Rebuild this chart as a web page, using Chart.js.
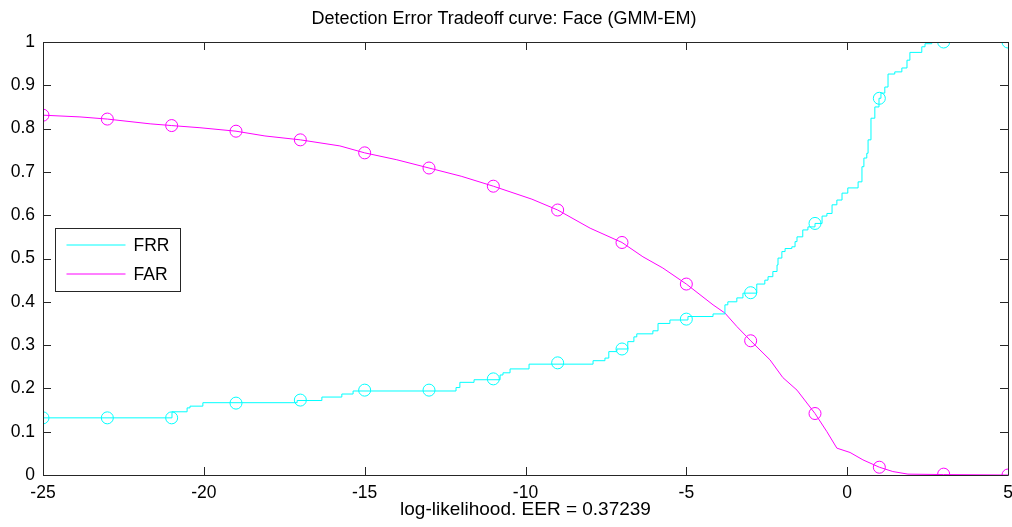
<!DOCTYPE html>
<html>
<head>
<meta charset="utf-8">
<script src="https://cdn.jsdelivr.net/npm/chart.js@4"></script>
<style>
	html, body { margin: 0; padding: 0; background: #fff; overflow: hidden; }
	canvas { display: block; }
</style>
</head>
<body>
<canvas id="detChart" width="1012" height="527"></canvas>
<script>
// marker positions (every 2 units) and curve values there
const markerX = [-25, -23, -21, -19, -17, -15, -13, -11, -9, -7, -5, -3, -1, 1, 3, 5];
const frrMarks = [0.132, 0.132, 0.132, 0.166, 0.173, 0.196, 0.196, 0.222, 0.259, 0.291, 0.360, 0.421, 0.581, 0.870, 1.0, 1.0];
const farMarks = [0.831, 0.822, 0.807, 0.794, 0.774, 0.744, 0.709, 0.667, 0.612, 0.537, 0.441, 0.310, 0.142, 0.018, 0.002, 0.0];

// FRR staircase (value changes at x)
const frrX = [-25, -20.99, -20.52, -20.43, -20.03, -17.10, -16.33, -15.71, -15.36, -12.16, -12.04, -11.60, -10.79, -10.70, -10.48, -9.89,
	-7.90, -7.53, -7.41, -7.16, -6.82, -6.63, -6.54, -6.04, -5.88, -5.51, -4.95, -4.17, -3.80, -3.71, -3.43, -3.24,
	-2.81, -2.56, -2.46, -2.31, -2.18, -2.15, -2.03, -1.93, -1.72, -1.62, -1.56, -1.38, -1.22, -1.00, -0.78, -0.63,
	-0.47, -0.32, -0.16, 0.02, 0.34, 0.46, 0.52, 0.61, 0.65, 0.74, 0.86, 0.99, 1.05, 1.17, 1.27, 1.48,
	1.70, 1.86, 1.95, 2.32, 2.42, 2.63, 5];
const frrY = [0.132, 0.146, 0.155, 0.159, 0.167, 0.172, 0.180, 0.187, 0.194, 0.202, 0.214, 0.220, 0.231, 0.236, 0.245, 0.256,
	0.264, 0.270, 0.285, 0.291, 0.308, 0.319, 0.326, 0.333, 0.350, 0.358, 0.366, 0.372, 0.393, 0.400, 0.409, 0.420,
	0.441, 0.450, 0.458, 0.470, 0.485, 0.501, 0.516, 0.523, 0.527, 0.539, 0.550, 0.566, 0.573, 0.581, 0.598, 0.604,
	0.624, 0.635, 0.651, 0.663, 0.677, 0.712, 0.732, 0.743, 0.774, 0.824, 0.850, 0.870, 0.882, 0.896, 0.926, 0.931,
	0.940, 0.958, 0.976, 0.989, 0.996, 1.0, 1.0];

// FAR curve
const farX = [-25, -23.85, -23, -21.67, -21, -20.12, -19, -18.1, -17, -15.77, -15, -14, -13, -12, -11, -9.8,
	-9, -7.99, -7, -6.35, -5.73, -5, -4.17, -3.8, -3.43, -3, -2.4, -2, -1.56, -1, -0.63, -0.32,
	0.09, 0.49, 1, 1.42, 1.89, 3, 5];
const farY = [0.831, 0.827, 0.822, 0.811, 0.807, 0.802, 0.794, 0.783, 0.774, 0.760, 0.744, 0.728, 0.709, 0.690, 0.667, 0.637,
	0.612, 0.570, 0.537, 0.504, 0.478, 0.441, 0.393, 0.374, 0.343, 0.310, 0.266, 0.225, 0.196, 0.142, 0.100, 0.062,
	0.052, 0.035, 0.018, 0.008, 0.002, 0.001, 0.0];

const titleText = 'Detection Error Tradeoff curve: Face (GMM-EM)';
const xTitle = 'log-likelihood. EER = 0.37239';

const cyan = 'rgb(0, 255, 255)';
const magenta = 'rgb(255, 0, 255)';
const axisColor = '#262626';
const font = 'Liberation Sans, Arial, sans-serif';

const toPts = (xs, ys) => xs.map((x, i) => ({ x: x, y: ys[i] }));

// box around the plot, inward ticks, legend box
const matlabAxes = {
	id: 'matlabAxes',
	afterDatasetsDraw(chart) {
		const ctx = chart.ctx;
		const a = chart.chartArea;
		const xs = chart.scales.x, ys = chart.scales.y;
		const tl = 8;
		ctx.save();
		ctx.strokeStyle = axisColor;
		ctx.lineWidth = 1;
		ctx.beginPath();
		ctx.rect(Math.round(a.left) + 0.5, Math.round(a.top) + 0.5, Math.round(a.right - a.left), Math.round(a.bottom - a.top));
		xs.ticks.forEach(t => {
			const px = Math.round(xs.getPixelForValue(t.value)) + 0.5;
			ctx.moveTo(px, a.bottom); ctx.lineTo(px, a.bottom - tl);
			ctx.moveTo(px, a.top); ctx.lineTo(px, a.top + tl);
		});
		ys.ticks.forEach(t => {
			const py = Math.round(ys.getPixelForValue(t.value)) + 0.5;
			ctx.moveTo(a.left, py); ctx.lineTo(a.left + tl, py);
			ctx.moveTo(a.right, py); ctx.lineTo(a.right - tl, py);
		});
		ctx.stroke();

		// legend
		const lx = Math.round(a.left) + 12.5, ly = Math.round(ys.getPixelForValue(0.57)) + 0.5;
		const w = 125, h = 63;
		ctx.fillStyle = '#fff';
		ctx.fillRect(lx, ly, w, h);
		ctx.strokeRect(lx, ly, w, h);
		const items = chart.data.datasets.filter(d => d.inLegend);
		ctx.font = '17.5px ' + font;
		ctx.textBaseline = 'middle';
		items.forEach((d, i) => {
			const y = Math.round(ly + 16 + i * 29);
			ctx.strokeStyle = d.borderColor;
			ctx.beginPath();
			ctx.moveTo(lx + 11, y); ctx.lineTo(lx + 70, y);
			ctx.stroke();
			ctx.fillStyle = '#000';
			ctx.fillText(d.label, lx + 78, y + 1);
		});
		ctx.restore();
	}
};

new Chart(document.getElementById('detChart'), {
	type: 'scatter',
	data: {
		datasets: [
			{ label: 'FRR', inLegend: true, data: toPts(frrX, frrY), showLine: true, stepped: true,
				borderColor: cyan, borderWidth: 1, pointRadius: 0 },
			{ label: 'FAR', inLegend: true, data: toPts(farX, farY), showLine: true,
				borderColor: magenta, borderWidth: 1, pointRadius: 0, tension: 0 },
			{ label: 'FRR marks', data: toPts(markerX, frrMarks), showLine: false,
				borderColor: cyan, backgroundColor: 'rgba(0,0,0,0)', pointRadius: 6, borderWidth: 1 },
			{ label: 'FAR marks', data: toPts(markerX, farMarks), showLine: false,
				borderColor: magenta, backgroundColor: 'rgba(0,0,0,0)', pointRadius: 6, borderWidth: 1 }
		]
	},
	options: {
		responsive: false,
		animation: false,
		layout: { autoPadding: false, padding: { left: 0, right: 4, top: 0, bottom: 0 } },
		plugins: {
			legend: { display: false },
			tooltip: { enabled: false },
			title: {
				display: true,
				text: titleText,
				color: '#000',
				font: { family: font, size: 18, weight: 'normal' },
				padding: { top: 8, bottom: 12.4 }
			}
		},
		scales: {
			x: {
				type: 'linear',
				min: -25, max: 5,
				border: { display: false },
				grid: { display: false },
				ticks: { stepSize: 5, color: '#000', padding: 0, font: { family: font, size: 17.5 } },
				title: { display: true, text: xTitle, color: '#000', padding: { top: 0, bottom: 6 },
					font: { family: font, size: 19 } },
				afterFit: s => { s.height = 52; s.paddingLeft = 0; s.paddingRight = 0; }
			},
			y: {
				min: 0, max: 1,
				border: { display: false },
				grid: { display: false },
				ticks: { stepSize: 0.1, color: '#000', padding: 0, font: { family: font, size: 17.5 },
					callback: v => String(Math.round(v * 10) / 10) },
				afterFit: s => { s.width = 43; }
			}
		}
	},
	plugins: [matlabAxes]
});
</script>
</body>
</html>
